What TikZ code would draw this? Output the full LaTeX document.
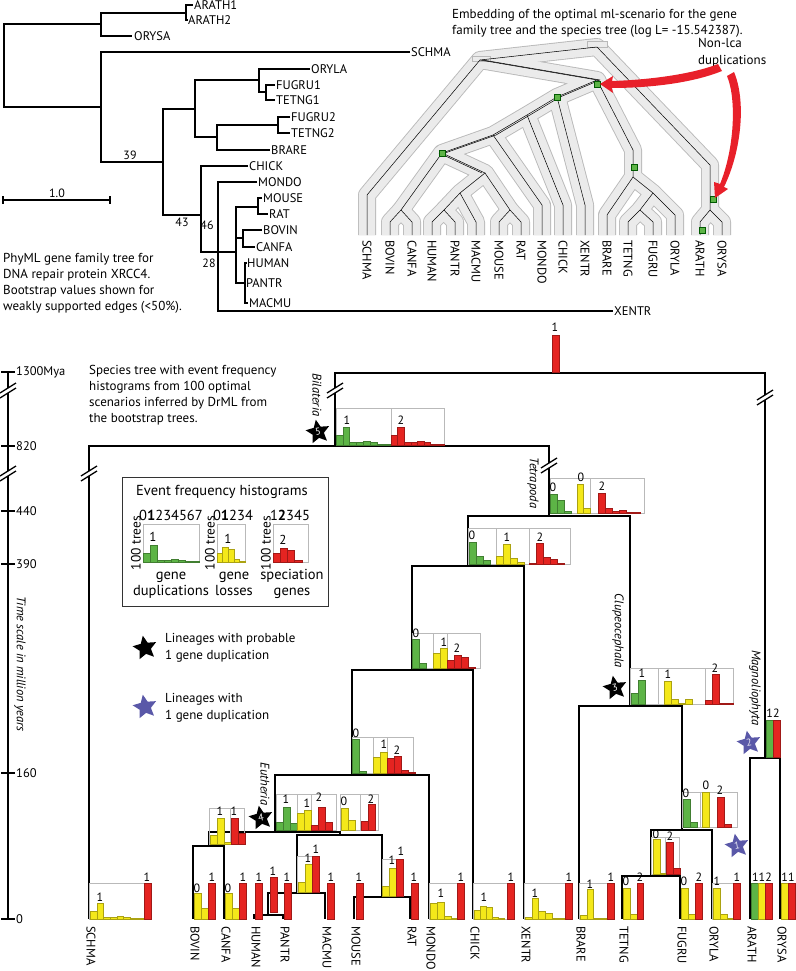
\documentclass[tikz,border=0pt]{standalone}
\usepackage{fontspec}
\setmainfont{PT Sans}
\usetikzlibrary{shapes.geometric}
\definecolor{hgreen}{HTML}{5DB446}
\definecolor{hyellow}{HTML}{F4E81A}
\definecolor{hred}{HTML}{E52421}
\definecolor{starblue}{HTML}{5A58A8}
\definecolor{arrred}{HTML}{E8202A}
\newcommand\hgbars[5]{\foreach \bh [count=\bi from 0] in {#5}{\filldraw[fill=#4,draw=#4!70!black,line width=0.3pt] ({#1+\bi*#3},#2) rectangle ++(#3,-\bh);}}
\newcommand\brk[2]{\fill[white] (#1-8,#2+3) -- (#1+8,#2-7) -- (#1+8,#2-2) -- (#1-8,#2+8) -- cycle;
  \draw[line width=1.3pt] (#1-8,#2+3) -- (#1+8,#2-7) (#1-8,#2+8) -- (#1+8,#2-2);}
\newcommand\tubes[1]{%
\draw[#1] (367,235) -- (367,195) -- (480,60) -- (597,47) -- (710,165) -- (710,210);
\draw[#1] (700,235) -- (700,222) -- (710,210) -- (722,222) -- (722,235);
\draw[#1] (480,60) -- (597,80) -- (557,97) -- (527,115) -- (493,135) -- (442,153) -- (401,210);
\draw[#1] (390,235) -- (390,222) -- (401,210) -- (412,222) -- (412,235);
\draw[#1] (442,153) -- (485,173) -- (460,193) -- (444,210);
\draw[#1] (432,235) -- (432,222) -- (444,210) -- (455,222) -- (455,235);
\draw[#1] (460,193) -- (476,222) -- (476,235);
\draw[#1] (485,173) -- (510,210);
\draw[#1] (499,235) -- (499,222) -- (510,210) -- (521,222) -- (521,235);
\draw[#1] (493,135) -- (542,205) -- (542,235);
\draw[#1] (527,115) -- (563,205) -- (563,235);
\draw[#1] (557,97) -- (585,205) -- (585,235);
\draw[#1] (597,80) -- (633,150) -- (633,177) -- (607,215) -- (607,235);
\draw[#1] (633,177) -- (653,193) -- (640,210);
\draw[#1] (628,235) -- (628,222) -- (640,210) -- (653,222) -- (653,235);
\draw[#1] (653,193) -- (675,215) -- (675,235);
}
\begin{document}
\begin{tikzpicture}[x=1pt,y=-1pt,
  gt/.style={line width=2pt,line join=miter},
  tree/.style={line width=2.3pt,line join=miter},
  hbox/.style={draw=gray!55,line width=0.6pt},
  num/.style={font=\fontsize{12}{13}\selectfont,inner sep=0},
  leaf/.style={font=\fontsize{12.5}{13}\selectfont,rotate=-90,anchor=west,inner sep=0},
  gl/.style={font=\fontsize{12.5}{13}\selectfont,anchor=west,inner sep=1pt},
  txt/.style={font=\fontsize{13}{16}\selectfont,anchor=base west,inner sep=0},
  lgt/.style={font=\fontsize{14.5}{16}\selectfont,anchor=base,inner sep=0},
  clade/.style={font=\itshape\fontsize{12.5}{13}\selectfont,rotate=-90,inner sep=0},
  starb/.style={star,star points=5,star point ratio=2.1,minimum size=25pt,inner sep=0,fill=black,text=white,font=\fontsize{10}{10}\selectfont},
  stars/.style={starb,fill=starblue,text=white!85!starblue},
  tubeout/.style={line width=18pt,draw=gray!55,line join=round},
  tubein/.style={line width=16.2pt,draw=gray!16,line join=round},
  gene/.style={line width=0.5pt,draw=black,line join=round},
  gsq/.style={draw=green!35!black,fill=hgreen,minimum size=6pt,inner sep=0,line width=0.4pt}]
\useasboundingbox (0,0) rectangle (795,971);

%================ gene family tree (top left)
\draw[gt] (101,24) -- (4,24) -- (4,107) -- (101,107);
\draw[gt] (186,13) -- (101,13) -- (101,36) -- (132,36);
\draw[gt] (193,5) -- (186,5) -- (186,20) -- (188,20);
\draw[gt] (410,52) -- (101,52) -- (101,162) -- (163,162);
\draw[gt] (195,109) -- (163,109) -- (163,215) -- (201,215);
\draw[gt] (259,80) -- (195,80) -- (195,137) -- (217,137);
\draw[gt] (310,69) -- (259,69) -- (259,92) -- (266,92);
\draw[gt] (275,85) -- (266,85) -- (266,100) -- (275,100);
\draw[gt] (278,125) -- (217,125) -- (217,150) -- (270,150);
\draw[gt] (290,117) -- (278,117) -- (278,133) -- (290,133);
\draw[gt] (248,166) -- (201,166) -- (201,252) -- (236,252);
\draw[gt] (257,182) -- (218,182) -- (218,311) -- (613,311);
\draw[gt] (258,207) -- (236,207) -- (236,283) -- (245,283);
\draw[gt] (236,238) -- (243,238);
\draw[gt] (262,198) -- (258,198) -- (258,214) -- (268,214);
\draw[gt] (262,230) -- (243,230) -- (243,247) -- (255,247);
\draw[gt] (247,263) -- (245,263) -- (245,303) -- (248,303);
\node[gl] (g1) at (193,5) {ARATH1};
\node[gl] (g2) at (187,20) {ARATH2};
\node[gl] (g3) at (133,36) {ORYSA};
\node[gl] (g4) at (410,52) {SCHMA};
\node[gl] (g5) at (310,69) {ORYLA};
\node[gl] (g6) at (275,85) {FUGRU1};
\node[gl] (g7) at (275,100) {TETNG1};
\node[gl] (g8) at (290,117) {FUGRU2};
\node[gl] (g9) at (290,133) {TETNG2};
\node[gl] (g10) at (270,150) {BRARE};
\node[gl] (g11) at (248,166) {CHICK};
\node[gl] (g12) at (257,182) {MONDO};
\node[gl] (g13) at (262,198) {MOUSE};
\node[gl] (g14) at (268,214) {RAT};
\node[gl] (g15) at (262,230) {BOVIN};
\node[gl] (g16) at (255,247) {CANFA};
\node[gl] (g17) at (246,263) {HUMAN};
\node[gl] (g18) at (245,283) {PANTR};
\node[gl] (g19) at (248,303) {MACMU};
\node[gl] (g20) at (613,311) {XENTR};
\node[num] (b39) at (130,155) {39};
\node[num] (b43) at (182,222) {43};
\node[num] (b46) at (207,225) {46};
\node[num] (b28) at (209,263) {28};
\draw[gt] (3,200) -- (110,200) (3,196) -- (3,204) (110,196) -- (110,204);
\node[num,anchor=base] (sc) at (57,197) {1.0};
\node[txt] (c1) at (3,262) {PhyML gene family tree for};
\node[txt] (c2) at (3,278) {DNA repair protein XRCC4.};
\node[txt] (c3) at (3,294) {Bootstrap values shown for};
\node[txt] (c4) at (3,310) {weakly supported edges (<50\%).};

%================ embedding (top right)
\tubes{tubeout}
\tubes{tubein}
\fill[gray!16,draw=gray!55,line width=0.6pt] (587,41) rectangle (607,47);
\fill[gray!16,draw=gray!55,line width=0.6pt] (472,56) rectangle (490,61);
\tubes{gene}
\draw[gene,xshift=3pt] (480,60) -- (597,80) -- (557,97) -- (527,115) -- (493,135) -- (442,153);
\draw[gene,xshift=-3pt] (442,153) -- (485,173);
\node[gsq] (q1) at (597,84) {};
\node[gsq] (q2) at (557,97) {};
\node[gsq] (q3) at (442,153) {};
\node[gsq] (q4) at (634,167) {};
\node[gsq] (q5) at (713,199) {};
\node[gsq] (q6) at (702,230) {};
\node[txt] (e1) at (452,19) {Embedding of the optimal ml-scenario for the gene};
\node[txt] (e2) at (452,35) {family tree and the species tree (log L= -15.542387).};
\foreach \nm/\xx in {SCHMA/367,BOVIN/390,CANFA/412,HUMAN/432,PANTR/455,MACMU/476,MOUSE/499,RAT/521,MONDO/542,CHICK/563,XENTR/585,BRARE/607,TETNG/628,FUGRU/653,ORYLA/675,ARATH/700,ORYSA/722}
  \node[leaf] (t\nm) at (\xx,240) {\nm};
\node[txt] (n1) at (698,48) {Non-lca};
\node[txt] (n2) at (698,65) {duplications};
\fill[arrred] (600,84) -- (613,76) -- (612,81) .. controls (645,80) and (690,75) .. (718,64)
  -- (722,71) .. controls (690,84) and (645,88) .. (612,88) -- (613,93) -- cycle;
\fill[arrred] (727,76) .. controls (737,100) and (734,150) .. (720,184) -- (714,182) -- (715,198)
  -- (728,189) -- (724,187) .. controls (742,150) and (746,100) .. (734,72) -- cycle;

%================ lower species tree
\node[txt] (s1) at (89,374) {Species tree with event frequency};
\node[txt] (s2) at (89,390) {histograms from 100 optimal};
\node[txt] (s3) at (89,406) {scenarios inferred by DrML from};
\node[txt] (s4) at (89,422) {the bootstrap trees.};
% time axis
\draw[tree] (8,372) -- (8,919);
\foreach \yy/\lb in {372/1300Mya,446/820,511/440,564/390,773/160,919/0}{
  \draw[line width=2pt] (1,\yy) -- (15,\yy);
  \node[num,anchor=west,font=\fontsize{12.5}{13}\selectfont] at (16,\yy) {\lb};}
\brk{8}{390}\brk{8}{473}
\node[clade] (tsl) at (20,664) {Time scale in million years};
% tree
\draw[tree] (335,446) -- (335,373) -- (765,373) -- (765,758);
\draw[tree] (89,919) -- (89,446) -- (549,446) -- (549,516);
\draw[tree] (468,566) -- (468,516) -- (630,516) -- (630,706);
\draw[tree] (412,670) -- (412,566) -- (524,566) -- (524,919);
\draw[tree] (352,775) -- (352,670) -- (473,670) -- (473,919);
\draw[tree] (275,832) -- (275,775) -- (429,775) -- (429,919);
\draw[tree] (209,846) -- (209,832) -- (340,832) -- (340,835);
\draw[tree] (297,893) -- (297,835) -- (382,835) -- (382,897);
\draw[tree] (193,919) -- (193,846) -- (224,846) -- (224,919);
\draw[tree] (268,915) -- (268,893) -- (325,893) -- (325,919);
\draw[tree] (254,919) -- (254,915) -- (283,915) -- (283,919);
\draw[tree] (354,919) -- (354,897) -- (410,897) -- (410,919);
\draw[tree] (579,919) -- (579,706) -- (682,706) -- (682,830);
\draw[tree] (651,876) -- (651,830) -- (712,830) -- (712,919);
\draw[tree] (622,919) -- (622,876) -- (680,876) -- (680,919);
\draw[tree] (750,919) -- (750,758) -- (780,758) -- (780,919);
\brk{335}{390}\brk{765}{397}\brk{89}{473}\brk{549}{465}
% clade names
\node[clade] (cb) at (317,395) {Bilateria};
\node[clade] (ct) at (533,483) {Tetrapoda};
\node[clade] (cc) at (618,631) {Clupeocephala};
\node[clade] (cm) at (755,688) {Magnoliophyta};
\node[clade] (ce) at (265,784) {Eutheria};
% stars
\node[starb,rotate=10] (st5) at (318,432) {5};
\node[starb,rotate=10] (st4) at (261,818) {4};
\node[starb,rotate=10] (st3) at (615,688) {3};
\node[stars,rotate=10] (st2) at (749,743) {2};
\node[stars,rotate=10] (st1) at (737,846) {1};

% root
\filldraw[fill=hred,draw=hred!70!black,line width=0.3pt] (552,372) rectangle (559,335);
\node[num] at (555,327) {1};
% Bilateria
\draw[hbox] (336,408) rectangle (444,445) (391,408) -- (391,445);
\hgbars{336}{445}{6.8}{hgreen}{10,18,3,3,4,3,1,1}
\hgbars{391}{445}{6.6}{hred}{10,18,3,3,4,2.5,1,0.5}
\node[num] at (347,420) {1}; \node[num] at (401,420) {2};
% Tetrapoda
\draw[hbox] (550,478) rectangle (644,513) (590,478) -- (590,513);
\hgbars{550}{513}{7}{hgreen}{19,13,2}
\hgbars{577}{513}{6.5}{hyellow}{29,5}
\hgbars{598}{513}{7}{hred}{20,5,2,3,1,1}
\node[num] at (553,487) {0}; \node[num] at (581,477) {0}; \node[num] at (602,486) {2};
% node 468
\draw[hbox] (468,528) rectangle (570,564) (496,528) -- (496,564) (529,528) -- (529,564);
\hgbars{469}{564}{7}{hgreen}{22,8,4}
\hgbars{496}{564}{7}{hyellow}{8,20,6,2}
\hgbars{529}{564}{7}{hred}{1,21,7,5,1}
\node[num] at (472,535) {0}; \node[num] at (507,537) {1}; \node[num] at (540,537) {2};
% node 412
\draw[hbox] (412,633) rectangle (480,668) (433,633) -- (433,668) (447,633) -- (447,668);
\hgbars{412}{668}{7}{hgreen}{29,5}
\hgbars{433}{668}{7}{hyellow}{15,20}
\hgbars{447}{668}{7}{hred}{8,13,11,1}
\node[num] at (416,633) {0}; \node[num] at (444,642) {1}; \node[num] at (457,648) {2};
% node 352
\draw[hbox] (352,737) rectangle (413,773) (373,737) -- (373,773) (387,737) -- (387,773);
\hgbars{352}{773}{7}{hgreen}{34,2}
\hgbars{373}{773}{7}{hyellow}{16,21}
\hgbars{387}{773}{7}{hred}{15,17,3,1}
\node[num] at (356,733) {0}; \node[num] at (384,744) {1}; \node[num] at (397,750) {2};
% Eutheria
\draw[hbox] (276,794) rectangle (336,830) (297,794) -- (297,830) (311,794) -- (311,830);
\hgbars{276}{830}{7}{hgreen}{8,23,7}
\hgbars{297}{830}{7}{hyellow}{17,20}
\hgbars{311}{830}{7}{hred}{5,23,8}
\node[num] at (286,799) {1}; \node[num] at (307,803) {1}; \node[num] at (319,797) {2};
% Euarchontoglires
\draw[hbox] (340,794) rectangle (378,830) (360,794) -- (360,830);
\hgbars{341}{830}{7}{hyellow}{22,10}
\hgbars{361}{830}{7}{hred}{9,26}
\node[num] at (344,801) {0}; \node[num] at (371,799) {2};
% Laurasiatheria
\draw[hbox] (209,808) rectangle (244,844) (230,808) -- (230,844);
\hgbars{210}{844}{7}{hyellow}{9,26,2}
\hgbars{231}{844}{7}{hred}{26,11}
\node[num] at (220,811) {1}; \node[num] at (234,811) {1};
% primates
\draw[hbox] (297,856) rectangle (319,892);
\hgbars{298}{892}{7}{hyellow}{10,28}
\hgbars{312}{892}{7}{hred}{36}
\node[num] at (308,858) {1}; \node[num] at (316,849) {1};
% rodents
\draw[hbox] (382,859) rectangle (403,896);
\hgbars{382}{896}{7}{hyellow}{10,28}
\hgbars{396}{896}{7}{hred}{37}
\node[num] at (392,860) {1}; \node[num] at (401,851) {1};
% Clupeocephala
\draw[hbox] (630,668) rectangle (733,704) (658,668) -- (658,704) (705,668) -- (705,704);
\hgbars{631}{704}{7}{hgreen}{11,24}
\hgbars{664}{704}{7}{hyellow}{23,5,1,5}
\hgbars{705}{704}{7}{hred}{4,30,0.5,1}
\node[num] at (642,673) {1}; \node[num] at (668,674) {1}; \node[num] at (715,668) {2};
% node 682
\draw[hbox] (682,792) rectangle (737,827) (700,792) -- (700,827);
\hgbars{683}{827}{7}{hgreen}{28,5}
\hgbars{702}{827}{7}{hyellow}{35}
\hgbars{717}{827}{7}{hred}{30,3}
\node[num] at (686,793) {0}; \node[num] at (706,785) {0}; \node[num] at (720,790) {2};
% node 651
\draw[hbox] (651,837) rectangle (679,874) (665,837) -- (665,874);
\hgbars{653}{874}{7}{hyellow}{35,1}
\hgbars{666}{874}{7}{hred}{32,6}
\node[num] at (656,834) {0}; \node[num] at (670,836) {2};
% Magnoliophyta
\hgbars{766}{757}{7}{hgreen}{37}
\hgbars{773}{757}{7}{hred}{37}
\node[num] at (773,713) {12};
% leaves
\draw[hbox] (89,883) rectangle (151,919);
\hgbars{90}{919}{6.7}{hyellow}{8,16,2,2,3,2,1,1}
\hgbars{144}{919}{7}{hred}{36}
\node[num] at (100,897) {1}; \node[num] at (147,877) {1};
\hgbars{194}{919}{7}{hyellow}{26,11}
\hgbars{208}{919}{7}{hred}{36}
\node[num] at (197,888) {0}; \node[num] at (212,877) {1};
\hgbars{225}{919}{7}{hyellow}{26,11}
\hgbars{239}{919}{7}{hred}{36}
\node[num] at (228,888) {0}; \node[num] at (243,877) {1};
\hgbars{255}{919}{7}{hred}{36}
\node[num] at (259,877) {1};
\filldraw[fill=hred,draw=hred!70!black,line width=0.3pt] (270,912) rectangle (277,877);
\node[num] at (273,871) {1};
\hgbars{284}{919}{7}{hred}{36}
\node[num] at (287,877) {1};
\hgbars{327}{919}{7}{hred}{36}
\node[num] at (331,877) {1};
\hgbars{356}{919}{7}{hred}{36}
\node[num] at (359,877) {1};
\hgbars{411}{919}{7}{hred}{36}
\node[num] at (414,877) {1};
\draw[hbox] (429,883) rectangle (464,919);
\hgbars{430}{919}{7}{hyellow}{16,17,3,1}
\hgbars{457}{919}{7}{hred}{36}
\node[num] at (441,893) {1}; \node[num] at (461,877) {1};
\draw[hbox] (473,883) rectangle (514,919);
\hgbars{474}{919}{6}{hyellow}{9,13,12,2,1}
\hgbars{507}{919}{7}{hred}{36}
\node[num] at (484,897) {1}; \node[num] at (511,877) {1};
\draw[hbox] (524,883) rectangle (572,919);
\hgbars{525}{919}{6.7}{hyellow}{2,21,8,6,1,1}
\hgbars{565}{919}{7}{hred}{36}
\node[num] at (535,893) {1}; \node[num] at (569,877) {1};
\draw[hbox] (579,883) rectangle (614,919);
\hgbars{580}{919}{6.7}{hyellow}{4,30,1,1}
\hgbars{607}{919}{7}{hred}{36}
\node[num] at (590,884) {1}; \node[num] at (611,877) {1};
\hgbars{623}{919}{7}{hyellow}{31,5}
\hgbars{637}{919}{6.5}{hred}{36}
\node[num] at (626,881) {0}; \node[num] at (640,877) {2};
\hgbars{681}{919}{7}{hyellow}{31,5}
\hgbars{695}{919}{7}{hred}{36}
\node[num] at (684,881) {0}; \node[num] at (699,877) {2};
\draw[hbox] (712,883) rectangle (740,919);
\hgbars{713}{919}{7}{hyellow}{31,5,1}
\hgbars{733}{919}{7}{hred}{36}
\node[num] at (717,881) {1}; \node[num] at (737,877) {1};
\hgbars{751}{919}{7}{hgreen}{36}
\hgbars{758}{919}{7}{hyellow}{36}
\hgbars{765}{919}{7}{hred}{36}
\node[num] at (762,877) {112};
\hgbars{781}{919}{7}{hyellow}{36}
\hgbars{788}{919}{7}{hred}{36}
\node[num] at (788,877) {11};
% leaf labels
\foreach \nm/\xx in {SCHMA/89,BOVIN/193,CANFA/224,HUMAN/254,PANTR/283,MACMU/325,MOUSE/354,RAT/410,MONDO/429,CHICK/473,XENTR/524,BRARE/579,TETNG/622,FUGRU/680,ORYLA/712,ARATH/750,ORYSA/780}
  \node[leaf] (l\nm) at (\xx+2,926) {\nm};

%================ legend
\draw[line width=0.8pt,draw=black!80] (122,477) rectangle (328,606);
\node[font=\fontsize{14.5}{16}\selectfont,inner sep=0] (lt) at (222,492) {Event frequency histograms};
\draw[hbox] (143,524) rectangle (199,562);
\hgbars{143}{562}{7}{hgreen}{9,17,2,1.5,3,2,0.5,0.5}
\draw[hbox] (217,524) rectangle (245,562);
\hgbars{217}{562}{5.6}{hyellow}{9,14.5,13,3,0.5}
\draw[hbox] (273,524) rectangle (308,562);
\hgbars{273}{562}{7.2}{hred}{9,14,12,2}
\node[font=\fontsize{14.5}{15}\selectfont,inner sep=0] (lx1) at (171,515) {0\textbf{1}234567};
\node[font=\fontsize{14.5}{15}\selectfont,inner sep=0] (lx2) at (233,515) {0\textbf{1}234};
\node[font=\fontsize{14.5}{15}\selectfont,inner sep=0] (lx3) at (290,515) {1\textbf{2}345};
\node[font=\fontsize{13.5}{14}\selectfont,rotate=90,inner sep=0] (ly1) at (136,543) {100 trees};
\node[font=\fontsize{13.5}{14}\selectfont,rotate=90,inner sep=0] (ly2) at (210,543) {100 trees};
\node[font=\fontsize{13.5}{14}\selectfont,rotate=90,inner sep=0] (ly3) at (266,543) {100 trees};
\node[num,font=\fontsize{13}{14}\selectfont] at (153,537) {1};
\node[num,font=\fontsize{13}{14}\selectfont] at (228,539) {1};
\node[num,font=\fontsize{13}{14}\selectfont] at (283,540) {2};
\node[lgt] at (171,579) {gene};
\node[lgt] at (171,595) {duplications};
\node[lgt] at (234,579) {gene};
\node[lgt] at (234,595) {losses};
\node[lgt] at (292,579) {speciation};
\node[lgt] at (292,595) {genes};
\node[starb,rotate=10] (ls1) at (145,648) {};
\node[stars,rotate=10] (ls2) at (145,707) {};
\node[txt] at (165,642) {Lineages with probable};
\node[txt] at (165,659) {1 gene duplication};
\node[txt] at (165,702) {Lineages with};
\node[txt] at (165,719) {1 gene duplication};
\end{tikzpicture}
\end{document}
